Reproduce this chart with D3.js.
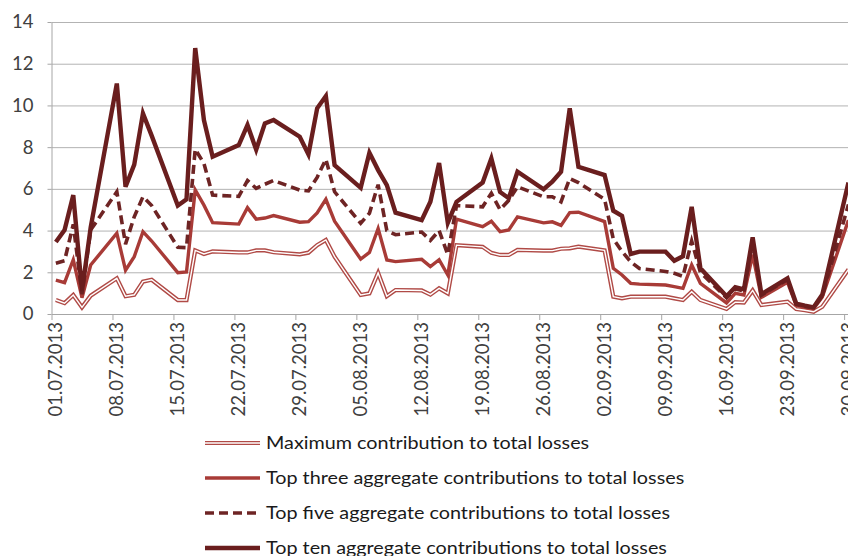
<!DOCTYPE html>
<html><head><meta charset="utf-8">
<script src="https://cdn.jsdelivr.net/npm/d3@7"></script>
<style>
html,body{margin:0;padding:0;background:#fff;overflow:hidden}
svg{display:block}
text{font-family:Lato,"Open Sans",sans-serif}
</style></head>
<body>
<svg id="c" width="848" height="556"></svg>
<script>
const dates = ["2013-07-01","2013-07-02","2013-07-03","2013-07-04","2013-07-05",
"2013-07-08","2013-07-09","2013-07-10","2013-07-11","2013-07-12",
"2013-07-15","2013-07-16","2013-07-17","2013-07-18","2013-07-19",
"2013-07-22","2013-07-23","2013-07-24","2013-07-25","2013-07-26",
"2013-07-29","2013-07-30","2013-07-31","2013-08-01","2013-08-02",
"2013-08-05","2013-08-06","2013-08-07","2013-08-08","2013-08-09",
"2013-08-12","2013-08-13","2013-08-14","2013-08-15","2013-08-16",
"2013-08-19","2013-08-20","2013-08-21","2013-08-22","2013-08-23",
"2013-08-26","2013-08-27","2013-08-28","2013-08-29","2013-08-30",
"2013-09-02","2013-09-03","2013-09-04","2013-09-05","2013-09-06",
"2013-09-09","2013-09-10","2013-09-11","2013-09-12","2013-09-13",
"2013-09-16","2013-09-17","2013-09-18","2013-09-19","2013-09-20",
"2013-09-23","2013-09-24","2013-09-25","2013-09-26","2013-09-27",
"2013-09-30"];

const maxContribution = [0.67,0.52,0.91,0.32,0.88, 1.71,0.85,0.92,1.55,1.64,
0.67,0.67,3.05,2.88,3.0, 2.95,2.95,3.05,3.05,2.96, 2.86,2.94,3.3,3.55,2.75,
0.91,0.99,1.97,0.85,1.15, 1.13,0.93,1.23,0.99,3.3, 3.22,2.93,2.83,2.83,3.07,
3.04,3.04,3.13,3.15,3.23, 3.05,0.83,0.75,0.83,0.83, 0.83,0.75,0.67,1.07,0.67,
0.24,0.57,0.55,1.13,0.43, 0.59,0.24,0.18,0.11,0.35, 2.14];

const topThree = [1.62,1.5,2.6,0.78,2.35, 3.87,2.1,2.75,3.95,3.5,
1.98,2.02,5.95,5.22,4.38, 4.31,5.1,4.55,4.6,4.72, 4.4,4.43,4.85,5.5,4.45,
2.63,2.95,4.1,2.59,2.51, 2.62,2.27,2.6,1.87,4.55, 4.19,4.45,3.95,4.03,4.66,
4.37,4.42,4.25,4.86,4.88, 4.43,2.19,1.87,1.47,1.43, 1.39,1.31,1.23,2.35,1.47,
0.53,0.99,0.91,2.85,0.8, 1.52,0.42,0.32,0.26,0.82, 4.5];

const topFive = [2.43,2.55,4.3,0.95,4.03, 5.86,3.35,4.66,5.62,5.2,
3.2,3.18,7.9,7.22,5.7, 5.64,6.4,6.02,6.22,6.4, 5.94,5.9,6.55,7.42,5.86,
4.35,4.83,6.2,4.0,3.8, 3.93,3.53,4.0,2.85,5.2, 5.14,5.79,5.0,5.45,6.1,
5.62,5.62,5.38,6.5,6.3, 5.5,3.6,3.0,2.5,2.18, 2.04,1.95,1.8,3.5,2.0,
0.78,1.2,1.1,3.5,0.9, 1.65,0.47,0.36,0.3,0.88, 5.25];

const topTen = [3.45,4.03,5.7,1.1,4.15, 11.05,6.1,7.16,9.62,8.55,
5.2,5.5,12.75,9.3,7.54, 8.1,9.06,7.88,9.14,9.3, 8.5,7.65,9.86,10.45,7.14,
6.05,7.73,6.9,6.18,4.86, 4.5,5.38,7.24,4.37,5.38, 6.3,7.46,5.85,5.55,6.82,
5.98,6.34,6.82,9.86,7.06, 6.66,4.95,4.7,2.88,2.99, 2.99,2.55,2.77,5.14,2.19,
0.85,1.28,1.18,3.68,0.95, 1.71,0.5,0.4,0.32,0.93, 6.3];

const yTicks = [0,2,4,6,8,10,12,14];
const xTickLabels = ["01.07.2013","08.07.2013","15.07.2013","22.07.2013","29.07.2013",
"05.08.2013","12.08.2013","19.08.2013","26.08.2013","02.09.2013","09.09.2013",
"16.09.2013","23.09.2013","30.09.2013"];
const seriesNames = ["Maximum contribution to total losses",
"Top three aggregate contributions to total losses",
"Top five aggregate contributions to total losses",
"Top ten aggregate contributions to total losses"];

(function(){
const parse = d3.timeParse("%Y-%m-%d");
const fmt = d3.timeFormat("%d.%m.%Y");
const noon = d => d3.timeHour.offset(d, 12);

const svg = d3.select("#c");
const pLeft = 51.5, pTop = 22, pBottom = 314;
const x = d3.scaleTime()
  .domain([parse("2013-07-01"), parse("2013-10-01")])
  .range([pLeft, pLeft + 92 * 8.71]);
const y = d3.scaleLinear().domain([0, 14]).range([pBottom, pTop]);

// gridlines
svg.append("g").selectAll("line").data(yTicks.filter(v => v > 0)).join("line")
  .attr("x1", pLeft).attr("x2", 848)
  .attr("y1", d => y(d) + 0.5).attr("y2", d => y(d) + 0.5)
  .attr("stroke", "#b3b3b3").attr("stroke-width", 1);

// y axis
const yAxis = svg.append("g").attr("transform", `translate(${pLeft},0)`)
  .call(d3.axisLeft(y).tickValues(yTicks).tickSize(4).tickPadding(14).tickSizeOuter(0));
yAxis.select(".domain").attr("stroke", "#a6a6a6");
yAxis.selectAll(".tick line").attr("stroke", "#a6a6a6");
yAxis.selectAll("text").attr("font-size", 18.5).attr("fill", "#404040");

// x axis
const weekTicks = xTickLabels.map(s => d3.timeParse("%d.%m.%Y")(s));
const xAxis = svg.append("g").attr("transform", `translate(0,${pBottom})`)
  .call(d3.axisBottom(x).tickValues(weekTicks).tickSize(6).tickFormat("").tickSizeOuter(0));
xAxis.select(".domain").attr("stroke", "#a6a6a6");
xAxis.selectAll(".tick line").attr("stroke", "#a6a6a6");
svg.append("g").selectAll("text").data(weekTicks).join("text")
  .attr("transform", d => `translate(${x(noon(d)) + 6.5},${pBottom + 8}) rotate(-90)`)
  .attr("text-anchor", "end")
  .attr("font-size", 18.5).attr("fill", "#404040")
  .text(d => fmt(d));

// lines
const pts = arr => arr.map((v, i) => [noon(parse(dates[i])), v]);
const line = d3.line().x(d => x(d[0])).y(d => y(d[1]));
const styles = [
  {data: maxContribution, stroke: "#b04a46", w: 4.2, inner: true},
  {data: topThree, stroke: "#a83b37", w: 3.4},
  {data: topFive, stroke: "#6e2424", w: 3.6, dash: "9,5"},
  {data: topTen, stroke: "#6a1e1e", w: 4.4}
];
const g = svg.append("g").attr("fill", "none").attr("stroke-linejoin", "miter");
styles.forEach(s => {
  g.append("path").datum(pts(s.data)).attr("d", line)
    .attr("stroke", s.stroke).attr("stroke-width", s.w)
    .attr("stroke-dasharray", s.dash || null);
  if (s.inner) g.append("path").datum(pts(s.data)).attr("d", line)
    .attr("stroke", "#fff").attr("stroke-width", 1.4);
});

// legend
const lg = svg.append("g");
seriesNames.forEach((name, i) => {
  const s = styles[i];
  const ly = 443 + i * 35;
  lg.append("line").attr("x1", 205).attr("x2", 260).attr("y1", ly).attr("y2", ly)
    .attr("stroke", s.stroke).attr("stroke-width", s.w)
    .attr("stroke-dasharray", s.dash || null);
  if (s.inner) lg.append("line").attr("x1", 205).attr("x2", 260).attr("y1", ly).attr("y2", ly)
    .attr("stroke", "#fff").attr("stroke-width", 1.4);
  const t = lg.append("text").attr("x", 266).attr("y", ly + 6)
    .attr("font-size", 17.5).attr("fill", "#1a1a1a").text(name);
  const len = t.node().getComputedTextLength();
  t.attr("textLength", len * 1.13).attr("lengthAdjust", "spacingAndGlyphs");
});
})();
</script>
</body></html>
